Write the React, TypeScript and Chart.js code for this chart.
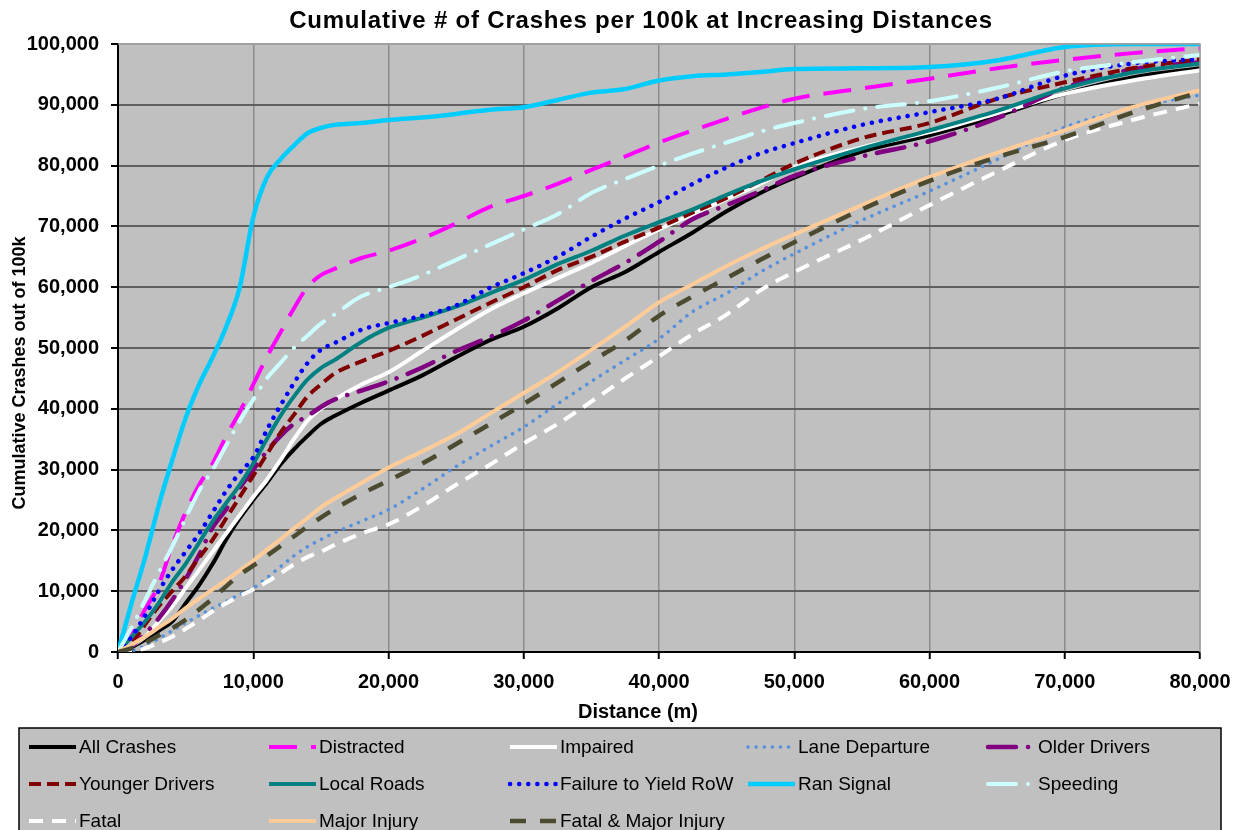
import React, { useEffect, useRef } from "react";
import { Chart, registerables } from "chart.js";

Chart.register(...registerables);

const chartTitle = "Cumulative # of Crashes per 100k at Increasing Distances";
const xAxisTitle = "Distance (m)";
const yAxisTitle = "Cumulative Crashes out of 100k";

const distances = [0, 1000, 2000, 3000, 4000, 5000, 6000, 7000, 8000, 9000, 10000, 11000, 12000, 13000, 14000, 15000, 16000,
  18000, 20000, 22500, 25000, 27500, 30000, 32500, 35000, 37500, 40000, 42500, 45000, 47500, 50000,
  55000, 60000, 65000, 70000, 75000, 80000];

const allCrashes = [0, 800, 2000, 3500, 5000, 8000, 11000, 14500, 18500, 22000, 25000, 27800, 30800, 33300, 35500, 37500, 38800,
  41000, 43000, 45500, 48500, 51300, 53500, 56500, 60000, 62500, 65800, 69000, 72500, 75500, 78000,
  82300, 85000, 88200, 91800, 94500, 96000];
const distracted = [0, 3000, 7000, 11000, 17500, 23000, 27500, 31000, 35500, 39500, 44000, 48500, 52500, 56500, 60000, 62000, 63000,
  64800, 66000, 68000, 70500, 73200, 75000, 77000, 79300, 81500, 83800, 85800, 87700, 89500, 91000,
  92700, 94300, 96000, 97400, 98500, 99300];
const impaired = [0, 1000, 2500, 5000, 7500, 10500, 13500, 16500, 19500, 22500, 25500, 28300, 31500, 35000, 38000, 40000, 41500,
  44000, 46000, 49500, 53000, 56300, 59000, 61500, 64000, 66800, 69500, 72000, 74500, 77000, 79800,
  83000, 85500, 88600, 91800, 94000, 95700];
const laneDeparture = [0, 200, 1000, 2200, 3500, 4800, 6000, 7200, 8300, 9500, 10500, 12200, 14000, 15800, 17300, 18500, 19600,
  21500, 23400, 26800, 30500, 33800, 37000, 40800, 44500, 48000, 51500, 56000, 59000, 62500, 65500,
  71000, 75800, 81000, 86300, 89500, 91600];
const olderDrivers = [0, 1000, 3000, 5500, 8500, 12000, 16000, 20500, 23500, 27000, 30000, 33000, 35500, 37500, 38800, 40300, 41500,
  43000, 44500, 46800, 49500, 51800, 54500, 57800, 61000, 64000, 67500, 71200, 73500, 75800, 78300,
  81500, 84000, 87800, 92800, 95800, 97000];
const youngerDrivers = [0, 1500, 4500, 7500, 10000, 12500, 15500, 18500, 22000, 25500, 29000, 32500, 36000, 39000, 42000, 44000, 45800,
  47800, 49500, 52000, 54700, 57400, 60000, 62800, 65000, 67500, 69800, 72300, 74700, 77500, 80300,
  84500, 87000, 91000, 93700, 96000, 97500];
const localRoads = [0, 2500, 5000, 8000, 11500, 14500, 18000, 21500, 24500, 27500, 31000, 35000, 38800, 42000, 44800, 46700, 48000,
  51000, 53300, 55000, 56800, 59000, 61200, 63800, 66000, 68500, 70700, 72800, 75200, 77400, 79400,
  82800, 85800, 89000, 92700, 95300, 96800];
const failureToYield = [0, 2500, 6000, 10000, 13500, 16500, 19500, 23000, 26500, 29500, 32000, 36500, 40500, 44200, 47500, 49700, 50800,
  53000, 54100, 55300, 57000, 59900, 62300, 65000, 68300, 71300, 74000, 77000, 79700, 82000, 83700,
  86700, 88800, 91000, 94800, 96800, 97500];
const ranSignal = [0, 8000, 15500, 24000, 31500, 38500, 44000, 48500, 53500, 60000, 71500, 78000, 81000, 83300, 85300, 86200, 86700,
  87000, 87500, 87900, 88500, 89200, 89600, 90800, 92000, 92600, 94000, 94700, 95000, 95400, 95900,
  96000, 96200, 97300, 99500, 100000, 100000];
const speeding = [0, 4000, 8500, 13000, 17300, 22000, 26500, 30000, 34000, 38000, 41500, 45000, 47500, 50000, 52000, 54000, 55500,
  58500, 60000, 62000, 64500, 67000, 69500, 72000, 75500, 77800, 80000, 82000, 83800, 85600, 87000,
  89300, 90600, 92800, 95500, 97000, 98200];
const fatal = [0, 100, 600, 1500, 2500, 3800, 5200, 6700, 8000, 9200, 10300, 11500, 12900, 14400, 15600, 16500, 17600,
  19500, 21000, 24000, 27500, 30800, 34300, 37500, 41200, 45000, 48600, 52300, 55500, 59500, 62500,
  67800, 73500, 79000, 84200, 87500, 90200];
const majorInjury = [0, 1200, 2500, 4000, 5500, 7200, 8800, 10300, 11800, 13400, 15000, 16800, 18500, 20300, 22000, 23800, 25200,
  27800, 30300, 33000, 35800, 39200, 42600, 46000, 49700, 53500, 57500, 60500, 63500, 66200, 68700,
  73500, 78100, 82100, 85800, 89600, 92400];
const fatalMajor = [0, 600, 1500, 2700, 3900, 5300, 7000, 8800, 10800, 12700, 14200, 15800, 17400, 19000, 20600, 22100, 23500,
  26000, 28200, 31000, 34200, 37500, 40800, 44300, 47800, 51200, 55300, 58500, 61500, 64500, 67400,
  72800, 77500, 81400, 84700, 88700, 92100];

const seriesNames = ["All Crashes", "Distracted", "Impaired", "Lane Departure", "Older Drivers",
  "Younger Drivers", "Local Roads", "Failure to Yield RoW", "Ran Signal", "Speeding",
  "Fatal", "Major Injury", "Fatal & Major Injury"];
const seriesValues = [allCrashes, distracted, impaired, laneDeparture, olderDrivers,
  youngerDrivers, localRoads, failureToYield, ranSignal, speeding, fatal, majorInjury, fatalMajor];

type Style = { color: string; width: number; dash: number[]; cap: CanvasLineCap };
const styles: Style[] = [
  { color: "#000000", width: 4, dash: [], cap: "butt" },
  { color: "#FF00FF", width: 4, dash: [28, 14], cap: "butt" },
  { color: "#FFFFFF", width: 4, dash: [], cap: "butt" },
  { color: "#5591DC", width: 3.5, dash: [0.1, 8], cap: "round" },
  { color: "#800080", width: 4.5, dash: [28, 12, 0.1, 12], cap: "round" },
  { color: "#800000", width: 4, dash: [12, 6], cap: "butt" },
  { color: "#008080", width: 4, dash: [], cap: "butt" },
  { color: "#0000FF", width: 4.5, dash: [0.1, 9], cap: "round" },
  { color: "#00CCFF", width: 4.5, dash: [], cap: "butt" },
  { color: "#CCFFFF", width: 4, dash: [28, 12, 0.1, 12], cap: "round" },
  { color: "#FFFFFF", width: 4, dash: [14, 9], cap: "butt" },
  { color: "#FFCC99", width: 4, dash: [], cap: "butt" },
  { color: "#4D4B2F", width: 4.5, dash: [16, 14], cap: "butt" },
];

const W = 1225;
const H = 822;
const FONT = '"Liberation Sans", Arial, sans-serif';

const fmt = (v: number) => Number(v).toLocaleString("en-US");

const decorPlugin = {
  id: "decor",
  beforeDraw(chart: any) {
    const { ctx, chartArea: a } = chart;
    ctx.save();
    ctx.fillStyle = "#FFFFFF";
    ctx.fillRect(0, 0, chart.width, chart.height);
    ctx.fillStyle = "#C0C0C0";
    ctx.fillRect(a.left, a.top, a.right - a.left, a.bottom - a.top);
    ctx.restore();
  },
  afterDraw(chart: any) {
    const { ctx, chartArea: a } = chart;
    ctx.save();
    // plot frame top/right
    ctx.strokeStyle = "#A0A0A0";
    ctx.lineWidth = 1.5;
    ctx.beginPath();
    ctx.moveTo(a.left, a.top);
    ctx.lineTo(a.right, a.top);
    ctx.lineTo(a.right, a.bottom);
    ctx.stroke();

    // titles
    ctx.fillStyle = "#000";
    ctx.textAlign = "center";
    ctx.textBaseline = "middle";
    ctx.font = `bold 24px ${FONT}`;
    try { (ctx as any).letterSpacing = "0.8px"; } catch (e) { /* ignore */ }
    ctx.fillText(chartTitle, 633, 13);
    try { (ctx as any).letterSpacing = "0px"; } catch (e) { /* ignore */ }
    ctx.font = `bold 20px ${FONT}`;
    ctx.fillText(xAxisTitle, 630, 704);
    ctx.save();
    ctx.translate(12, 365);
    ctx.rotate(-Math.PI / 2);
    ctx.font = `bold 18px ${FONT}`;
    ctx.fillText(yAxisTitle, 0, 0);
    ctx.restore();

    // legend
    ctx.fillStyle = "#C0C0C0";
    ctx.fillRect(11, 720, 1202, 120);
    ctx.strokeStyle = "#000";
    ctx.lineWidth = 1.5;
    ctx.strokeRect(11, 720, 1202, 120);
    const colX = [19, 259, 500, 738, 978];
    const rowY = [739, 776, 813];
    ctx.font = `19px ${FONT}`;
    ctx.textAlign = "left";
    seriesNames.forEach((name, i) => {
      const x = colX[i % 5];
      const y = rowY[Math.floor(i / 5)];
      const s = styles[i];
      ctx.save();
      ctx.strokeStyle = s.color;
      ctx.lineWidth = s.width;
      ctx.lineCap = s.cap;
      ctx.setLineDash(s.dash);
      ctx.beginPath();
      ctx.moveTo(x + 2, y);
      ctx.lineTo(x + 49, y);
      ctx.stroke();
      ctx.restore();
      ctx.fillStyle = "#000";
      ctx.fillText(name, x + 52, y + 1);
    });
    ctx.restore();
  },
};

export default function App() {
  const ref = useRef<HTMLCanvasElement>(null);
  useEffect(() => {
    const datasets = seriesNames.map((name, i) => ({
      label: name,
      data: distances.map((d, j) => ({ x: d, y: seriesValues[i][j] })),
      borderColor: styles[i].color,
      backgroundColor: styles[i].color,
      borderWidth: styles[i].width,
      borderDash: styles[i].dash,
      borderCapStyle: styles[i].cap,
      borderJoinStyle: "round" as CanvasLineJoin,
      pointRadius: 0,
      fill: false,
      cubicInterpolationMode: "monotone" as const,
      order: -i,
    }));
    const tickFont = { family: FONT, size: 20, weight: "bold" as const };
    const chart = new Chart(ref.current!, {
      type: "line",
      data: { datasets },
      options: {
        animation: false,
        responsive: false,
        devicePixelRatio: 1,
        layout: { padding: { top: 36, right: 33, left: 0, bottom: 138 } },
        plugins: { legend: { display: false }, tooltip: { enabled: false }, title: { display: false } },
        scales: {
          x: {
            type: "linear",
            min: 0,
            max: 80000,
            afterFit: (s: any) => { s.height = 40; s.paddingRight = 0; s.paddingLeft = 0; },
            ticks: { stepSize: 10000, callback: (v: any) => fmt(v), font: tickFont, color: "#000", padding: 11, maxRotation: 0, autoSkip: false },
            grid: { color: (c: any) => (c.tick && c.tick.value === 80000 ? "#A0A0A0" : "#8C8C8C"), lineWidth: 1.5, tickColor: "#000", tickLength: 7, tickWidth: 2 },
            border: { display: true, color: "#000", width: 2 },
          },
          y: {
            type: "linear",
            min: 0,
            max: 100000,
            afterFit: (s: any) => { s.width = 110; s.paddingTop = 0; s.paddingBottom = 0; },
            ticks: { stepSize: 10000, callback: (v: any) => fmt(v), font: tickFont, color: "#000", padding: 12 },
            grid: { color: (c: any) => (c.tick && c.tick.value === 100000 ? "#A0A0A0" : "#606060"), lineWidth: 2, tickColor: "#000", tickLength: 7, tickWidth: 2 },
            border: { display: true, color: "#000", width: 2 },
          },
        },
      },
      plugins: [decorPlugin],
    } as any);
    return () => chart.destroy();
  }, []);
  return (
    <div style={{ width: W, height: H }}>
      <canvas ref={ref} width={W} height={H} style={{ display: "block", width: W, height: H }} />
    </div>
  );
}
